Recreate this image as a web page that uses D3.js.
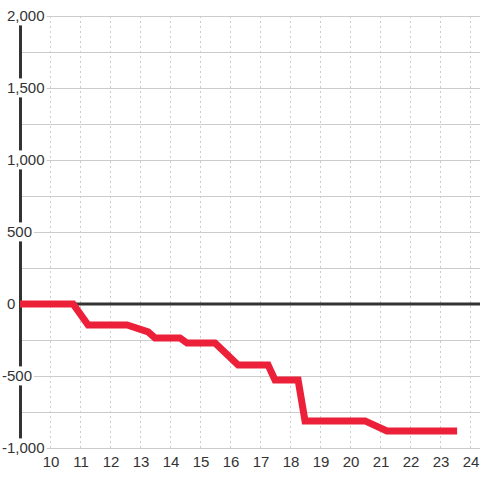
<!DOCTYPE html>
<meta charset="utf-8">
<style>
  body { margin: 0; background: #fff; }
  svg { font: 15px "Liberation Sans", Arial, sans-serif; }
  .grid-h line { stroke: #ccc; stroke-width: 1px; shape-rendering: crispEdges; }
  .grid-v line { stroke: #ccc; stroke-width: 1px; stroke-dasharray: 2,3; shape-rendering: crispEdges; }
  .tick-label { fill: #333; }
</style>
<body>
<div id="chart"></div>
<script src="https://d3js.org/d3.v7.min.js"></script>
<script>
  // series: hour of day -> running total
  var hours  = [9, 10.77, 11.27, 12.57, 13.27, 13.5, 14.33, 14.57, 15.5, 16.27, 17.27, 17.5, 18.27, 18.5, 20.5, 21.23, 23.57];
  var values = [0, 0, -146, -146, -194, -236, -236, -271, -271, -424, -424, -528, -528, -812, -812, -882, -882];

  var yTicks = [2000, 1500, 1000, 500, 0, -500, -1000];
  var yGrid  = d3.range(-1000, 2001, 250);
  var xTicks = d3.range(10, 25);

  var W = 480, H = 480;

  var x = d3.scaleLinear().domain([9, 24]).range([20, 470]);
  var y = d3.scaleLinear().domain([-1000, 2000]).range([448, 16]);

  var svg = d3.select("#chart").append("svg")
      .attr("width", W)
      .attr("height", H);

  // horizontal grid
  svg.append("g").attr("class", "grid-h")
    .selectAll("line").data(yGrid).enter().append("line")
      .attr("x1", 20).attr("x2", W)
      .attr("y1", function(d) { return Math.round(y(d)) + 0.5; })
      .attr("y2", function(d) { return Math.round(y(d)) + 0.5; });

  // vertical dashed grid
  svg.append("g").attr("class", "grid-v")
    .selectAll("line").data(xTicks).enter().append("line")
      .attr("x1", function(d) { return Math.round(x(d)) + 0.5; })
      .attr("x2", function(d) { return Math.round(x(d)) + 0.5; })
      .attr("y1", y(2000)).attr("y2", y(-1000));

  // y axis line + zero line
  svg.append("line")
      .attr("x1", x(9) + 0.5).attr("x2", x(9) + 0.5)
      .attr("y1", y(2000)).attr("y2", y(-1000))
      .attr("stroke", "#333").attr("stroke-width", 3);
  svg.append("line")
      .attr("x1", x(9)).attr("x2", W)
      .attr("y1", y(0)).attr("y2", y(0))
      .attr("stroke", "#333").attr("stroke-width", 3);

  // the series
  var line = d3.line()
      .x(function(d, i) { return x(hours[i]); })
      .y(function(d) { return y(d); });

  svg.append("path")
      .datum(values)
      .attr("d", line)
      .attr("fill", "none")
      .attr("stroke", "#ec2039")
      .attr("stroke-width", 7)
      .attr("stroke-linejoin", "miter");

  // y labels with white backing
  var fmt = d3.format(",");
  var yl = svg.append("g").selectAll("g").data(yTicks).enter().append("g");
  yl.append("rect").attr("fill", "#fff");
  yl.append("text")
      .attr("class", "tick-label")
      .attr("x", function(d) { return d < 0 ? 2 : 7; })
      .attr("y", function(d) { return y(d); })
      .attr("dy", "0.36em")
      .text(function(d) { return fmt(d).replace("−", "-"); });
  yl.each(function() {
    var b = d3.select(this).select("text").node().getBBox();
    d3.select(this).select("rect")
      .attr("x", b.x - 2).attr("y", b.y - 1)
      .attr("width", b.width + 4).attr("height", b.height + 2);
  });

  // x labels
  svg.append("g").selectAll("text").data(xTicks).enter().append("text")
      .attr("class", "tick-label")
      .attr("x", function(d) { return x(d) + 1; })
      .attr("y", 467)
      .attr("text-anchor", "middle")
      .text(function(d) { return d; });
</script>
</body>
